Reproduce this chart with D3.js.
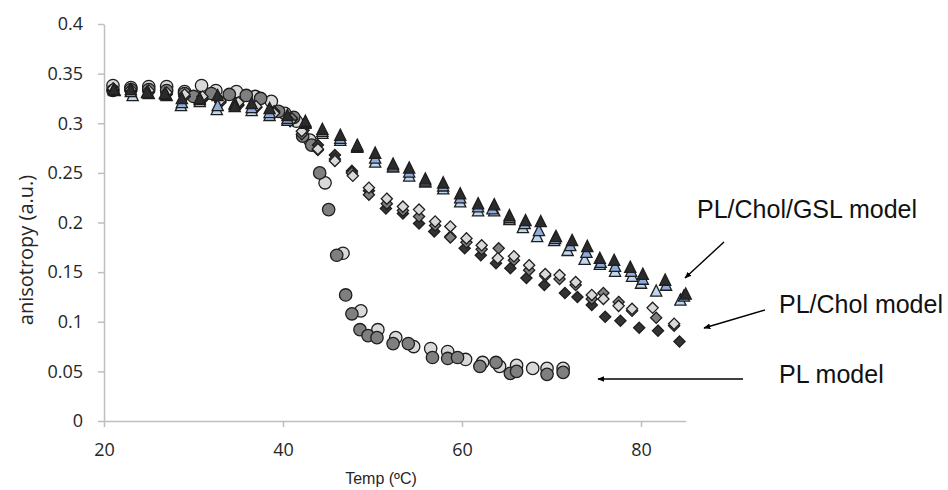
<!DOCTYPE html>
<html>
<head>
<meta charset="utf-8">
<script src="https://cdn.jsdelivr.net/npm/d3@7"></script>
<style>
  html, body { margin: 0; padding: 0; background: #ffffff; }
  svg { display: block; }
</style>
</head>
<body>
<svg id="chart" width="948" height="490"></svg>
<script>
// ---------------- DATA (temperature °C, anisotropy a.u.) ----------------
const xTicks = [20, 40, 60, 80];
const xTickLabels = ["20", "40", "60", "80"];
const yTicks = [0, 0.05, 0.1, 0.15, 0.2, 0.25, 0.3, 0.35, 0.4];
const yTickLabels = ["0", "0.05", "0.1", "0.15", "0.2", "0.25", "0.3", "0.35", "0.4"];

// PL model (circles)
const plLight = [[21.0,0.338],[23.0,0.336],[25.0,0.337],[27.0,0.337],[29.0,0.332],[30.9,0.338],[32.5,0.333],[34.8,0.332],[36.9,0.327],[38.7,0.322],[40.2,0.310],[41.5,0.302],[43.0,0.283],[44.7,0.240],[46.7,0.169],[48.7,0.111],[50.6,0.092],[52.6,0.084],[54.6,0.075],[56.5,0.073],[58.4,0.070],[60.4,0.062],[62.3,0.059],[64.2,0.055],[66.1,0.056],[67.9,0.053],[69.5,0.053],[71.3,0.053]];
const plMid = [[21.0,0.333],[23.0,0.334],[25.0,0.334],[27.0,0.333],[29.0,0.330],[30.0,0.327],[32.0,0.330],[34.0,0.329],[35.9,0.328],[37.5,0.325],[39.5,0.312],[41.2,0.306],[42.2,0.287],[43.2,0.278],[44.1,0.250],[45.1,0.213],[46.0,0.167],[47.0,0.127],[47.7,0.108],[48.6,0.092],[49.5,0.086],[50.5,0.084],[52.3,0.078],[54.0,0.078],[56.7,0.064],[58.4,0.063],[59.5,0.064],[62.0,0.055],[63.8,0.059],[65.4,0.048],[66.1,0.050],[69.5,0.047],[71.3,0.049]];

// PL/Chol model (diamonds)
const cholDark = [[21.0,0.333],[23.0,0.332],[25.0,0.332],[27.0,0.329],[29.0,0.327],[31.0,0.324],[33.0,0.322],[35.0,0.318],[37.0,0.316],[39.0,0.312],[41.0,0.304],[42.3,0.293],[43.9,0.278],[45.8,0.268],[47.7,0.252],[49.6,0.232],[51.5,0.214],[53.4,0.209],[55.2,0.199],[56.9,0.191],[58.7,0.186],[60.3,0.174],[62.1,0.167],[63.8,0.159],[65.4,0.154],[67.2,0.144],[69.2,0.137],[71.5,0.129],[72.9,0.125],[74.5,0.117],[76.0,0.105],[77.7,0.101],[79.8,0.094],[81.9,0.091],[84.3,0.080]];
const cholMid = [[21.0,0.334],[23.0,0.333],[25.0,0.331],[27.0,0.330],[29.0,0.327],[31.0,0.325],[33.0,0.321],[35.0,0.319],[37.0,0.316],[39.0,0.311],[41.0,0.305],[42.1,0.289],[43.9,0.273],[45.8,0.264],[47.7,0.250],[49.6,0.228],[51.6,0.219],[53.4,0.212],[55.2,0.206],[57.0,0.197],[58.7,0.185],[60.5,0.180],[62.2,0.173],[64.1,0.174],[65.8,0.162],[67.5,0.152],[69.3,0.146],[70.9,0.143],[72.7,0.137],[74.5,0.123],[75.8,0.129],[77.5,0.120],[79.0,0.111],[81.7,0.104],[83.7,0.096]];
const cholLight = [[21.0,0.335],[23.0,0.334],[25.0,0.333],[27.0,0.331],[29.0,0.329],[31.0,0.327],[33.0,0.323],[35.0,0.321],[37.0,0.317],[39.0,0.310],[40.8,0.302],[42.1,0.292],[43.9,0.274],[45.8,0.262],[47.8,0.247],[49.6,0.235],[51.6,0.224],[53.4,0.216],[55.2,0.213],[57.0,0.201],[58.7,0.196],[60.5,0.184],[62.2,0.177],[64.0,0.164],[65.8,0.166],[67.5,0.157],[69.3,0.148],[70.9,0.147],[72.7,0.140],[74.5,0.127],[75.8,0.123],[77.5,0.116],[79.0,0.113],[81.3,0.114],[83.7,0.098]];

// PL/Chol/GSL model (triangles)
const gslLight = [[21.2,0.333],[23.2,0.328],[25.0,0.330],[27.0,0.328],[28.6,0.318],[30.7,0.322],[32.6,0.314],[34.6,0.320],[36.5,0.313],[38.5,0.308],[40.5,0.303],[42.5,0.300],[44.4,0.290],[46.4,0.283],[48.3,0.276],[50.3,0.261],[52.3,0.256],[54.1,0.247],[55.9,0.241],[57.9,0.234],[59.8,0.221],[61.8,0.212],[63.6,0.212],[65.3,0.203],[66.8,0.195],[68.4,0.186],[70.3,0.182],[71.8,0.172],[73.7,0.163],[75.4,0.158],[77.1,0.151],[79.0,0.146],[80.0,0.139],[81.7,0.131],[84.4,0.122]];
const gslMid = [[21.1,0.334],[23.0,0.332],[24.9,0.331],[26.9,0.329],[28.7,0.321],[30.7,0.324],[32.7,0.318],[34.6,0.319],[36.5,0.316],[38.5,0.311],[40.5,0.305],[42.5,0.301],[44.4,0.292],[46.4,0.285],[48.3,0.277],[50.3,0.265],[52.3,0.257],[54.1,0.251],[55.9,0.242],[57.9,0.237],[59.8,0.225],[61.8,0.216],[63.4,0.214],[65.3,0.205],[67.0,0.199],[68.6,0.192],[70.4,0.184],[72.1,0.177],[73.9,0.170],[75.5,0.160],[77.1,0.156],[78.9,0.151],[80.2,0.143],[82.8,0.137],[84.8,0.126]];
const gslDark = [[21.1,0.334],[23.0,0.334],[24.8,0.331],[26.8,0.330],[28.7,0.325],[30.7,0.325],[32.7,0.328],[34.6,0.317],[36.5,0.320],[38.5,0.315],[40.5,0.308],[42.5,0.302],[44.4,0.294],[46.4,0.288],[48.3,0.278],[50.3,0.270],[52.3,0.259],[54.1,0.255],[55.9,0.244],[57.9,0.240],[59.8,0.229],[61.8,0.219],[63.6,0.218],[65.3,0.207],[67.1,0.202],[68.8,0.201],[70.5,0.186],[72.3,0.182],[74.0,0.176],[75.4,0.164],[77.0,0.162],[78.8,0.155],[80.2,0.148],[82.7,0.142],[85.0,0.128]];

const annotations = ["PL/Chol/GSL model", "PL/Chol model", "PL model"];
const xTitle = "Temp (\u00BAC)";
const yTitle = "anisotropy (a.u.)";

// ---------------- CHART ----------------
const svg = d3.select("#chart");
const x = d3.scaleLinear().domain([20, 85]).range([104, 685.75]);
const y = d3.scaleLinear().domain([0, 0.4]).range([421, 24]);
const axisColor = "#bfbfbf";
const tickFont = "'Open Sans', 'DejaVu Sans', sans-serif";

// Y axis
const gy = svg.append("g").attr("transform", "translate(104,0)")
  .call(d3.axisLeft(y).tickValues(yTicks).tickSize(6).tickSizeOuter(0).tickPadding(15)
    .tickFormat((d, i) => yTickLabels[i]));
gy.select(".domain").attr("stroke", axisColor).attr("stroke-width", 1.5);
gy.selectAll(".tick line").attr("stroke", axisColor).attr("stroke-width", 1.5);
gy.selectAll(".tick text").attr("fill", "#262626").style("font-family", tickFont).style("font-size", "18px");

// X axis
const gx = svg.append("g").attr("transform", "translate(0,421)")
  .call(d3.axisBottom(x).tickValues(xTicks).tickSize(6).tickSizeOuter(0).tickPadding(16)
    .tickFormat((d, i) => xTickLabels[i]));
gx.select(".domain").attr("stroke", axisColor).attr("stroke-width", 1.5);
gx.selectAll(".tick line").attr("stroke", axisColor).attr("stroke-width", 1.5);
gx.selectAll(".tick text").attr("fill", "#262626").style("font-family", tickFont).style("font-size", "18px");

// Axis titles
svg.append("text").attr("transform", "translate(33,250) rotate(-90)")
  .attr("text-anchor", "middle").attr("fill", "#262626")
  .style("font-family", tickFont).style("font-size", "20px").text(yTitle);
svg.append("text").attr("x", 381).attr("y", 484)
  .attr("text-anchor", "middle").attr("fill", "#262626")
  .style("font-family", "'Liberation Sans', Arial, sans-serif").style("font-size", "16px").text(xTitle);

// Marker shapes
const circlePath = "M6.2,0A6.2,6.2,0,1,1,-6.2,0A6.2,6.2,0,1,1,6.2,0Z";
const diamondPath = "M0,-5.6L5.6,0L0,5.6L-5.6,0Z";
const trianglePath = "M0,-6L5.6,5.2L-5.6,5.2Z";

const series = [
  { data: plLight,   path: circlePath,   fill: "#d9d9d9" },
  { data: plMid,     path: circlePath,   fill: "#7f7f7f" },
  { data: cholDark,  path: diamondPath,  fill: "#333333" },
  { data: cholMid,   path: diamondPath,  fill: "#7f7f7f" },
  { data: cholLight, path: diamondPath,  fill: "#d9d9d9" },
  { data: gslLight,  path: trianglePath, fill: "#bdd7ee" },
  { data: gslMid,    path: trianglePath, fill: "#8faadc" },
  { data: gslDark,   path: trianglePath, fill: "#2b2b2b" }
];

const gMarks = svg.append("g");
series.forEach(s => {
  gMarks.append("g").selectAll("path").data(s.data).join("path")
    .attr("d", s.path)
    .attr("transform", d => `translate(${x(d[0])},${y(d[1])})`)
    .attr("fill", s.fill)
    .attr("stroke", "#1e1e1e")
    .attr("stroke-width", 1.3);
});

// Annotations (text + arrows, positioned in page pixels)
const defs = svg.append("defs");
defs.append("marker").attr("id", "arrow").attr("viewBox", "0 0 10 10")
  .attr("refX", 9).attr("refY", 5).attr("markerWidth", 7).attr("markerHeight", 7)
  .attr("markerUnits", "userSpaceOnUse")
  .attr("orient", "auto-start-reverse")
  .append("path").attr("d", "M0,1L10,5L0,9Z").attr("fill", "#000");

const annFont = "'Liberation Sans', Arial, sans-serif";
const textPos = [[697, 218], [779, 313], [779, 383]];
const arrowStart = [[724, 242], [765, 310], [743, 379]];
const arrowEnd = [[685, 278], [704, 328], [598, 379]];
annotations.forEach((t, i) => {
  svg.append("text").attr("x", textPos[i][0]).attr("y", textPos[i][1])
    .attr("fill", "#111").style("font-family", annFont).style("font-size", "25px").text(t);
  svg.append("line")
    .attr("x1", arrowStart[i][0]).attr("y1", arrowStart[i][1])
    .attr("x2", arrowEnd[i][0]).attr("y2", arrowEnd[i][1])
    .attr("stroke", "#000").attr("stroke-width", 1.4).attr("marker-end", "url(#arrow)");
});
</script>
</body>
</html>
